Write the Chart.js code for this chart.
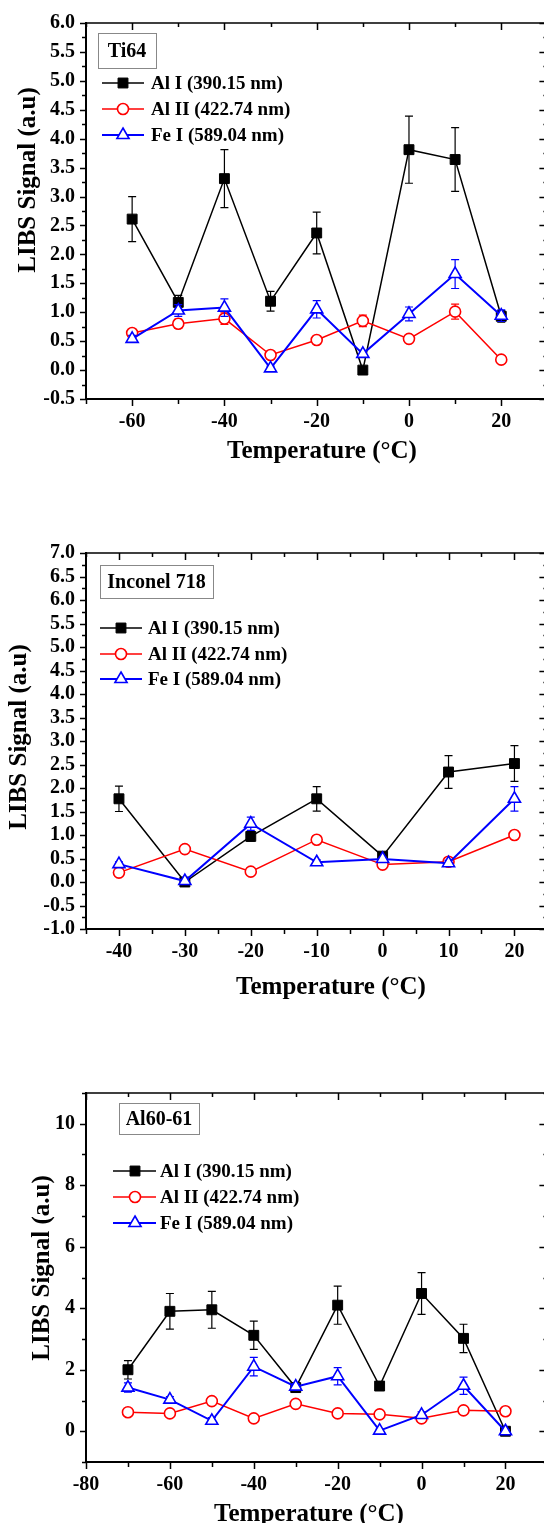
<!DOCTYPE html>
<html><head><meta charset="utf-8">
<script src="https://cdn.jsdelivr.net/npm/chart.js@4.4.1/dist/chart.umd.min.js"></script>
<style>
html,body{margin:0;padding:0;background:#fff;overflow:hidden;width:544px;height:1523px;position:relative;}
.wrap{position:absolute;left:0;width:556px;}
canvas{display:block;}
</style></head><body>
<div class="wrap" style="top:0px;height:470px"><canvas id="c1" width="556" height="470"></canvas></div>
<div class="wrap" style="top:530px;height:470px"><canvas id="c2" width="556" height="470"></canvas></div>
<div class="wrap" style="top:1070px;height:453px"><canvas id="c3" width="556" height="453"></canvas></div>
<script>
// ---------- DATA ----------
const seriesNames = ['Al I (390.15 nm)', 'Al II (422.74 nm)', 'Fe I (589.04 nm)'];

// Panel 1: Ti64
const temps1 = [-60, -50, -40, -30, -20, -10, 0, 10, 20];
const alI1 = [2.61, 1.17, 3.31, 1.19, 2.37, 0.0, 3.81, 3.64, 0.93];
const alI1Err = [0.39, 0.12, 0.50, 0.17, 0.36, 0, 0.58, 0.55, 0.10];
const alII1 = [0.64, 0.80, 0.89, 0.26, 0.52, 0.85, 0.54, 1.01, 0.18];
const alII1Err = [0.05, 0.08, 0.10, 0.05, 0.04, 0.10, 0.05, 0.13, 0.05];
const feI1 = [0.54, 1.03, 1.08, 0.03, 1.05, 0.28, 0.97, 1.66, 0.94];
const feI1Err = [0.06, 0.10, 0.15, 0.04, 0.15, 0.06, 0.12, 0.25, 0.10];
const xTicks1 = [-60, -40, -20, 0, 20];
const yTicks1 = [-0.5, 0.0, 0.5, 1.0, 1.5, 2.0, 2.5, 3.0, 3.5, 4.0, 4.5, 5.0, 5.5, 6.0];

// Panel 2: Inconel 718
const temps2 = [-40, -30, -20, -10, 0, 10, 20];
const alI2 = [1.77, 0.0, 0.97, 1.77, 0.55, 2.34, 2.52];
const alI2Err = [0.27, 0, 0.10, 0.26, 0.05, 0.35, 0.38];
const alII2 = [0.20, 0.70, 0.22, 0.90, 0.37, 0.43, 1.00];
const alII2Err = [0.04, 0.03, 0.04, 0.08, 0.04, 0.06, 0.08];
const feI2 = [0.38, 0.02, 1.24, 0.42, 0.49, 0.40, 1.77];
const feI2Err = [0.05, 0.02, 0.14, 0.05, 0.04, 0.06, 0.26];
const xTicks2 = [-40, -30, -20, -10, 0, 10, 20];
const yTicks2 = [-1.0, -0.5, 0.0, 0.5, 1.0, 1.5, 2.0, 2.5, 3.0, 3.5, 4.0, 4.5, 5.0, 5.5, 6.0, 6.5, 7.0];

// Panel 3: Al60-61
const temps3 = [-70, -60, -50, -40, -30, -20, -10, 0, 10, 20];
const alI3 = [2.00, 3.90, 3.95, 3.12, 1.42, 4.10, 1.47, 4.48, 3.02, 0.0];
const alI3Err = [0.30, 0.58, 0.60, 0.46, 0.15, 0.62, 0.12, 0.68, 0.46, 0];
const alII3 = [0.62, 0.58, 0.98, 0.42, 0.89, 0.58, 0.55, 0.42, 0.68, 0.65];
const alII3Err = [0.05, 0.05, 0.05, 0.05, 0.05, 0.05, 0.05, 0.05, 0.05, 0.05];
const feI3 = [1.42, 1.03, 0.34, 2.10, 1.45, 1.79, 0.02, 0.53, 1.48, 0.0];
const feI3Err = [0.15, 0.10, 0.10, 0.30, 0.10, 0.28, 0.05, 0.10, 0.28, 0.05];
const xTicks3 = [-80, -60, -40, -20, 0, 20];
const yTicks3 = [0, 2, 4, 6, 8, 10];

const panelLabels = ['Ti64', 'Inconel 718', 'Al60-61'];
const xTitle = 'Temperature (°C)';
const yTitle = 'LIBS Signal (a.u)';

// ---------- STYLE ----------
const FONT = "'Liberation Serif','Times New Roman',serif";
const styles = [
  {borderColor:'#000000', pointBackgroundColor:'#000000', pointStyle:'rect', pointRadius:7, pointBorderWidth:1, borderWidth:1.5, order:3},
  {borderColor:'#ff0000', pointBackgroundColor:'#ffffff', pointStyle:'circle', pointRadius:5.5, pointBorderWidth:1.6, borderWidth:1.5, order:2},
  {borderColor:'#0000ff', pointBackgroundColor:'#ffffff', pointStyle:'triangle', pointRadius:7, pointBorderWidth:1.6, borderWidth:2, order:1}
];

function pts(xs, ys) { return xs.map((x, i) => ({x: x, y: ys[i]})); }

function makeDatasets(temps, vals, errs) {
  return vals.map((v, i) => Object.assign({
    label: seriesNames[i],
    data: pts(temps, v),
    errors: errs[i],
    backgroundColor: styles[i].pointBackgroundColor,
    pointHoverRadius: styles[i].pointRadius,
    tension: 0,
    fill: false
  }, styles[i]));
}

function isMul(v, start, step) {
  const q = (v - start) / step;
  return Math.abs(q - Math.round(q)) < 1e-6;
}

function panelPlugin(cfg) {
  return {
    id: 'panelDeco' + cfg.id,
    beforeDatasetDraw(chart, args) {
      const ds = chart.data.datasets[args.index];
      const errs = ds.errors; if (!errs) return;
      const xs = chart.scales.x, ys = chart.scales.y, ctx = chart.ctx;
      ctx.save();
      ctx.strokeStyle = ds.borderColor; ctx.lineWidth = 1.2;
      ds.data.forEach((p, i) => {
        const e = errs[i]; if (!e) return;
        const px = xs.getPixelForValue(p.x);
        const y1 = ys.getPixelForValue(p.y + e), y2 = ys.getPixelForValue(p.y - e);
        ctx.beginPath();
        ctx.moveTo(px, y1); ctx.lineTo(px, y2);
        ctx.moveTo(px - 4, y1); ctx.lineTo(px + 4, y1);
        ctx.moveTo(px - 4, y2); ctx.lineTo(px + 4, y2);
        ctx.stroke();
      });
      ctx.restore();
    },
    afterDraw(chart) {
      const ctx = chart.ctx, xs = chart.scales.x, ys = chart.scales.y;
      const {left, right, top, bottom} = chart.chartArea;
      ctx.save();
      // frame top/right
      ctx.strokeStyle = '#000'; ctx.lineWidth = 1.5;
      ctx.beginPath(); ctx.moveTo(left, top); ctx.lineTo(right, top); ctx.lineTo(right, bottom); ctx.stroke();
      // ticks
      ctx.lineWidth = 1.5;
      ctx.beginPath();
      for (let v = xs.min; v <= xs.max + 1e-9; v += cfg.xMinor) {
        const px = Math.round(xs.getPixelForValue(v)) + 0.5;
        const maj = isMul(v, cfg.xMajorStart, cfg.xMajor);
        ctx.moveTo(px, bottom); ctx.lineTo(px, bottom + (maj ? 7 : 5));
        ctx.moveTo(px, top); ctx.lineTo(px, top + (maj ? 7 : 4));
      }
      for (let v = ys.min; v <= ys.max + 1e-9; v += cfg.yMinor) {
        const py = Math.round(ys.getPixelForValue(v)) + 0.5;
        const maj = isMul(v, cfg.yMajorStart, cfg.yMajor);
        ctx.moveTo(left, py); ctx.lineTo(left - (maj ? 6 : 4), py);
        ctx.moveTo(right, py); ctx.lineTo(right - (maj ? 8 : 4), py);
      }
      ctx.stroke();
      // label box
      ctx.font = 'bold 20px ' + FONT;
      ctx.fillStyle = '#fff';
      const b = cfg.box;
      ctx.fillRect(b[0], b[1], b[2], b[3]);
      ctx.strokeStyle = '#888'; ctx.lineWidth = 1;
      ctx.strokeRect(b[0] + 0.5, b[1] + 0.5, b[2], b[3]);
      ctx.fillStyle = '#000'; ctx.textAlign = 'center'; ctx.textBaseline = 'middle';
      ctx.fillText(cfg.label, b[0] + b[2] / 2, b[1] + b[3] / 2 + 1);
      // legend
      const L = cfg.legend;
      chart.data.datasets.forEach((ds, i) => {
        const y = L.rows[i];
        ctx.strokeStyle = ds.borderColor; ctx.lineWidth = ds.borderWidth;
        ctx.beginPath(); ctx.moveTo(L.x1, y); ctx.lineTo(L.x2, y); ctx.stroke();
        ctx.fillStyle = ds.pointBackgroundColor; ctx.lineWidth = ds.pointBorderWidth;
        Chart.helpers.drawPoint(ctx, {pointStyle: ds.pointStyle, radius: ds.pointRadius, borderWidth: ds.pointBorderWidth, rotation: 0}, L.mx, y);
        ctx.fillStyle = '#000'; ctx.font = 'bold 19px ' + FONT;
        ctx.textAlign = 'left'; ctx.textBaseline = 'middle';
        ctx.fillText(ds.label, L.tx, y + 1);
      });
      // axis titles
      ctx.fillStyle = '#000';
      ctx.font = 'bold 25px ' + FONT;
      ctx.textAlign = 'center'; ctx.textBaseline = 'alphabetic';
      ctx.fillText(xTitle, cfg.xTitlePos[0], cfg.xTitlePos[1]);
      ctx.translate(cfg.yTitlePos[0], cfg.yTitlePos[1]);
      ctx.rotate(-Math.PI / 2);
      ctx.textBaseline = 'middle';
      ctx.fillText(yTitle, 0, 0);
      ctx.restore();
    }
  };
}

function build(cfg) {
  const tickFont = {family: FONT, size: 20, weight: 'bold'};
  new Chart(document.getElementById(cfg.canvas), {
    type: 'line',
    data: {datasets: makeDatasets(cfg.temps, cfg.vals, cfg.errs)},
    options: {
      responsive: false, animation: false, devicePixelRatio: 1,
      layout: {padding: {left: 0, top: cfg.padTop, right: 6, bottom: 0}},
      plugins: {legend: {display: false}, tooltip: {enabled: false}},
      scales: {
        x: {
          type: 'linear', min: cfg.xMin, max: cfg.xMax,
          afterBuildTicks: s => { s.ticks = cfg.xTicks.map(v => ({value: v})); },
          afterFit: s => { s.height = cfg.xHeight; },
          grid: {display: false, drawTicks: false},
          border: {display: true, width: 2, color: '#000'},
          ticks: {autoSkip: false, maxRotation: 0, padding: 11, color: '#000', font: tickFont, callback: v => String(v)}
        },
        y: {
          type: 'linear', min: cfg.yMin, max: cfg.yMax,
          afterBuildTicks: s => { s.ticks = cfg.yTicks.map(v => ({value: v})); },
          afterFit: s => { s.width = 86; },
          grid: {display: false, drawTicks: false},
          border: {display: true, width: 2, color: '#000'},
          ticks: {autoSkip: false, padding: 11, color: '#000', font: tickFont, callback: v => cfg.yDec ? Number(v).toFixed(1) : String(v)}
        }
      }
    },
    plugins: [panelPlugin(cfg)]
  });
}

build({id: 1, canvas: 'c1', temps: temps1, vals: [alI1, alII1, feI1], errs: [alI1Err, alII1Err, feI1Err],
  xMin: -70, xMax: 30, yMin: -0.5, yMax: 6.0, xTicks: xTicks1, yTicks: yTicks1, yDec: true,
  padTop: 17, xHeight: 71, xMinor: 10, xMajor: 20, xMajorStart: -60, yMinor: 0.25, yMajor: 0.5, yMajorStart: -0.5,
  label: panelLabels[0], box: [98, 33, 58, 35],
  legend: {x1: 102, x2: 144, mx: 123, tx: 151, rows: [83, 109, 135]},
  xTitlePos: [322, 458], yTitlePos: [28.5, 180]});

build({id: 2, canvas: 'c2', temps: temps2, vals: [alI2, alII2, feI2], errs: [alI2Err, alII2Err, feI2Err],
  xMin: -45, xMax: 25, yMin: -1.0, yMax: 7.0, xTicks: xTicks2, yTicks: yTicks2, yDec: true,
  padTop: 19, xHeight: 71, xMinor: 5, xMajor: 10, xMajorStart: -40, yMinor: 0.25, yMajor: 0.5, yMajorStart: -1.0,
  label: panelLabels[1], box: [100, 35, 113, 33],
  legend: {x1: 100, x2: 142, mx: 121, tx: 148, rows: [98, 124, 149]},
  xTitlePos: [331, 464], yTitlePos: [20, 207]});

build({id: 3, canvas: 'c3', temps: temps3, vals: [alI3, alII3, feI3], errs: [alI3Err, alII3Err, feI3Err],
  xMin: -80, xMax: 30, yMin: -1, yMax: 11, xTicks: xTicks3, yTicks: yTicks3, yDec: false,
  padTop: 12, xHeight: 61, xMinor: 10, xMajor: 20, xMajorStart: -80, yMinor: 1, yMajor: 2, yMajorStart: 0,
  label: panelLabels[2], box: [119, 33, 80, 31],
  legend: {x1: 113, x2: 156, mx: 135, tx: 160, rows: [101, 127, 153]},
  xTitlePos: [309, 451], yTitlePos: [43, 198]});
</script>
</body></html>
